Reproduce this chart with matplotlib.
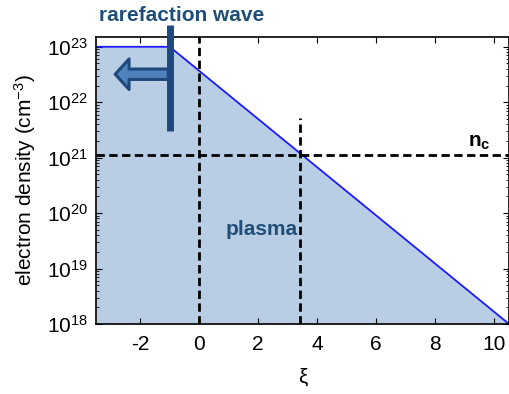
import matplotlib.pyplot as plt
from matplotlib.ticker import LogLocator, NullFormatter

plt.rcParams['font.family'] = ['Liberation Sans', 'DejaVu Sans']
plt.rcParams['mathtext.fontset'] = 'custom'
plt.rcParams['mathtext.rm'] = 'Liberation Sans'
plt.rcParams['mathtext.it'] = 'Liberation Sans:italic'
plt.rcParams['mathtext.bf'] = 'Liberation Sans:bold'
plt.rcParams['axes.unicode_minus'] = False

# density profile: flat plateau, then exponential decay
xi = [-3.5, -1.0, 10.5]
density = [1e23, 1e23, 1e18]

n_c = 1.1e21        # critical density
xi_c = 3.4          # where the profile crosses n_c
xi_front = -1.0     # rarefaction front

fig = plt.figure(figsize=(5.09, 3.94), dpi=100)
ax = fig.add_axes([0.1886, 0.1777, 0.8114, 0.7283])

ax.fill_between(xi, density, 1e18, color='#b9cde5', lw=0)
ax.plot(xi, density, color='#1a1aff', lw=1.3)

dash = (0, (3, 1.6))
ax.axhline(n_c, color='black', ls=dash, lw=2)
ax.axvline(0, color='black', ls=dash, lw=2)
ax.plot([xi_c, xi_c], [1e18, 5.2e21], color='black', ls=dash, lw=2)

# rarefaction wave marker and arrow
ax.plot([xi_front, xi_front], [3.0e21, 2.5e23], color='#1f497d', lw=5,
        clip_on=False, solid_capstyle='butt', zorder=5)
ax.annotate('', xy=(-2.85, 3.2e22), xytext=(xi_front - 0.05, 3.2e22),
            arrowprops=dict(arrowstyle='simple,head_width=2.2,head_length=1.0,tail_width=0.75',
                            fc='#4f81bd', ec='#1f497d', lw=2.2, shrinkA=0, shrinkB=0),
            zorder=4)

ax.text(-0.6, 3.6e23, 'rarefaction wave', color='#1f4e79', fontsize=15,
        fontweight='bold', ha='center', va='center', clip_on=False)
ax.text(2.1, 5e19, 'plasma', color='#1f4e79', fontsize=15,
        fontweight='bold', ha='center', va='center')
ax.text(9.5, 1.9e21, r'$\mathbf{n_c}$', color='black', fontsize=15,
        ha='center', va='center')

ax.set_yscale('log')
ax.set_xlim(-3.5, 10.5)
ax.set_ylim(1e18, 1.5e23)
ax.set_xticks([-2, 0, 2, 4, 6, 8, 10])
ax.yaxis.set_major_locator(LogLocator(base=10, numticks=10))
ax.yaxis.set_minor_locator(LogLocator(base=10, subs=range(2, 10), numticks=20))
ax.yaxis.set_minor_formatter(NullFormatter())

ax.tick_params(which='both', direction='in', top=True, right=True, labelsize=15)
ax.tick_params(axis='x', which='major', length=4, pad=8)
ax.tick_params(axis='y', which='major', length=4, pad=6)
ax.tick_params(which='minor', length=2)
for s in ax.spines.values():
    s.set_linewidth(1.2)

ax.set_xlabel('ξ', fontsize=15, labelpad=10)
ax.set_ylabel('electron density (cm$^{-3}$)', fontsize=15, labelpad=6)

fig.savefig('out.png', dpi=100)
